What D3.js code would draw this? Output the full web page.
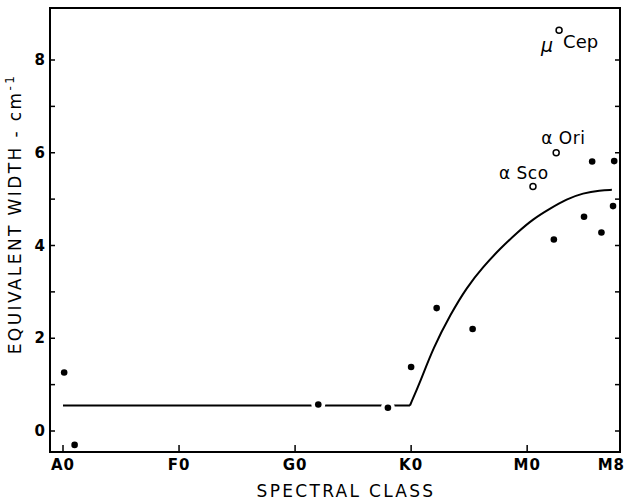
<!DOCTYPE html>
<html lang="en">
<head>
<meta charset="UTF-8">
<title>Equivalent width vs spectral class</title>
<style>
body{margin:0;background:#fff;}
text{font-family:"DejaVu Sans",sans-serif;fill:#000;}
</style>
</head>
<body>
<script src="https://d3js.org/d3.v7.min.js"></script>
<script>
// spectral class as a number: A0=0, F0=10, G0=20, K0=30, M0=40, M8=48
var classTicks = [0, 10, 20, 30, 40, 48];
var classLabels = ["A0", "F0", "G0", "K0", "M0", "M8"];
var widthTicks = [0, 1, 2, 3, 4, 5, 6, 7, 8];
var widthLabels = [0, 2, 4, 6, 8];

// filled dots (normal stars)
var starClass = [0.1, 1.0, 22.0, 28.0, 30.0, 32.2, 35.3, 42.3, 44.9, 45.6, 46.4, 47.4, 47.5];
var starWidth = [1.26, -0.30, 0.57, 0.50, 1.38, 2.65, 2.20, 4.13, 4.62, 5.81, 4.28, 4.85, 5.82];

// open circles (supergiants)
var superClass = [40.5, 42.5, 42.75];
var superWidth = [5.27, 6.0, 8.64];

// mean curve: flat part, then the rise after K0
var flatClass = [0, 29.9];
var flatWidth = [0.55, 0.55];
var riseClass = [29.9, 30.8, 31.9, 33.4, 34.8, 36.2, 37.7, 39.1, 40.5, 42.0, 43.4, 44.8, 46.3, 47.3];
var riseWidth = [0.55, 1.07, 1.79, 2.52, 3.10, 3.54, 3.94, 4.27, 4.57, 4.80, 5.00, 5.13, 5.19, 5.20];

var width = 626, height = 504;
var svg = d3.select("body").append("svg")
	.attr("width", width).attr("height", height);

var x = d3.scaleLinear().domain([0, 48]).range([63, 620]);
var y = d3.scaleLinear().domain([0, 8]).range([431, 60]);
var frame = {left: 50, right: 620, top: 8, bottom: 452};

// curve
var line = d3.line().x(function(d){ return x(d[0]); }).y(function(d){ return y(d[1]); });
svg.append("path").datum(d3.zip(flatClass, flatWidth))
	.attr("d", line).attr("fill", "none").attr("stroke", "#000").attr("stroke-width", 2);
svg.append("path").datum(d3.zip(riseClass, riseWidth))
	.attr("d", line.curve(d3.curveBasis))
	.attr("fill", "none").attr("stroke", "#000").attr("stroke-width", 2);

// white halo round the dots (gaps in the line)
var stars = d3.zip(starClass, starWidth);
svg.selectAll(".halo").data(stars).enter().append("circle")
	.attr("cx", function(d){ return x(d[0]); }).attr("cy", function(d){ return y(d[1]); })
	.attr("r", 7).attr("fill", "#fff");

// frame
svg.append("rect").attr("x", frame.left).attr("y", frame.top)
	.attr("width", frame.right - frame.left).attr("height", frame.bottom - frame.top)
	.attr("fill", "none").attr("stroke", "#000").attr("stroke-width", 2);

// left axis ticks
svg.selectAll(".lt").data(widthTicks).enter().append("line")
	.attr("x1", frame.left).attr("x2", frame.left + 5)
	.attr("y1", function(d){ return y(d); }).attr("y2", function(d){ return y(d); })
	.attr("stroke", "#000").attr("stroke-width", 1.5);
svg.selectAll(".ll").data(widthLabels).enter().append("text")
	.attr("x", frame.left - 5).attr("y", function(d){ return y(d) + 5; })
	.attr("text-anchor", "end").attr("font-size", 15).attr("font-weight", "bold")
	.text(function(d){ return d; });

// right axis ticks
svg.selectAll(".rt").data(widthTicks).enter().append("line")
	.attr("x1", frame.right - 5).attr("x2", frame.right)
	.attr("y1", function(d){ return y(d); }).attr("y2", function(d){ return y(d); })
	.attr("stroke", "#000").attr("stroke-width", 1.5);

// bottom axis ticks
svg.selectAll(".bt").data(classTicks.slice(0, 5)).enter().append("line")
	.attr("x1", function(d){ return x(d); }).attr("x2", function(d){ return x(d); })
	.attr("y1", frame.bottom).attr("y2", frame.bottom - 7)
	.attr("stroke", "#000").attr("stroke-width", 1.5);
svg.selectAll(".bl").data(classTicks).enter().append("text")
	.attr("x", function(d, i){ return i == classTicks.length - 1 ? 625 : x(d); })
	.attr("y", 470)
	.attr("text-anchor", function(d, i){ return i == classTicks.length - 1 ? "end" : "middle"; })
	.attr("font-size", 15).attr("font-weight", "bold").attr("letter-spacing", 1)
	.text(function(d, i){ return classLabels[i]; });

// axis titles
svg.append("text").attr("x", 346).attr("y", 497)
	.attr("text-anchor", "middle").attr("font-size", 17).attr("letter-spacing", 2.3)
	.text("SPECTRAL CLASS");
var yt = svg.append("text")
	.attr("transform", "translate(21,214) rotate(-90)")
	.attr("text-anchor", "middle").attr("font-size", 17).attr("letter-spacing", 2.4);
yt.append("tspan").text("EQUIVALENT WIDTH - cm");
yt.append("tspan").attr("dy", -7).attr("font-size", 12).text("-1");

// filled dots
svg.selectAll(".dot").data(stars).enter().append("circle")
	.attr("cx", function(d){ return x(d[0]); }).attr("cy", function(d){ return y(d[1]); })
	.attr("r", 3.3).attr("fill", "#000");

// open circles
svg.selectAll(".open").data(d3.zip(superClass, superWidth)).enter().append("circle")
	.attr("cx", function(d){ return x(d[0]); }).attr("cy", function(d){ return y(d[1]); })
	.attr("r", 3).attr("fill", "#fff").attr("stroke", "#000").attr("stroke-width", 1.5);

// star names
svg.append("text").attr("x", x(40.5) - 34).attr("y", y(5.27) - 8)
	.attr("font-size", 17).attr("letter-spacing", 0.5).text("α Sco");
svg.append("text").attr("x", x(42.5) - 15).attr("y", y(6.0) - 9)
	.attr("font-size", 17).attr("letter-spacing", 0.5).text("α Ori");
svg.append("text").attr("x", x(42.75) - 18).attr("y", y(8.64) + 22)
	.attr("font-size", 19).attr("font-style", "italic").text("μ");
svg.append("text").attr("x", x(42.75) + 4).attr("y", y(8.64) + 18)
	.attr("font-size", 18).text("Cep");
</script>
</body>
</html>
